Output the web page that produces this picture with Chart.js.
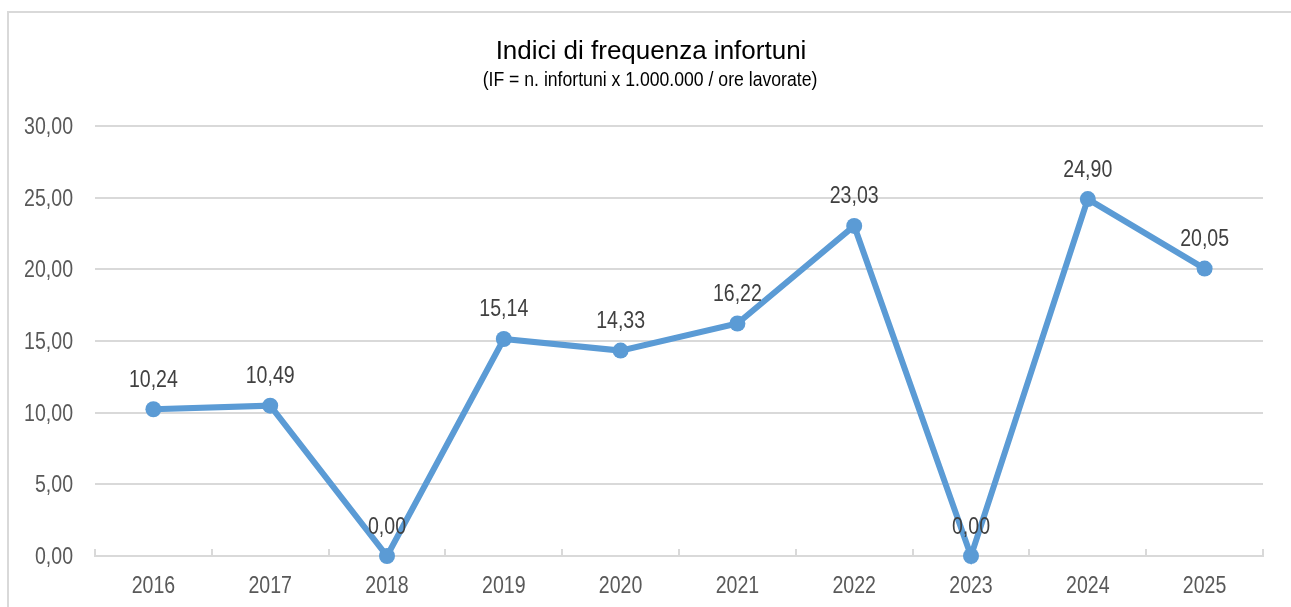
<!DOCTYPE html>
<html>
<head>
<meta charset="utf-8">
<script src="https://cdn.jsdelivr.net/npm/chart.js@4"></script>
<style>
  html, body { margin: 0; padding: 0; background: #fff; overflow: hidden; }
  #frame { position: absolute; left: 7px; top: 11px; width: 1320px; height: 700px; border: 2px solid #d9d9d9; }
  #wrap { position: absolute; left: 0; top: 0; width: 1291px; height: 607px; }
</style>
</head>
<body>
<div id="frame"></div>
<div id="wrap"><canvas id="chart"></canvas></div>
<script>
// Indici di frequenza infortuni
const years = ['2016', '2017', '2018', '2019', '2020', '2021', '2022', '2023', '2024', '2025'];
const ifValues = [10.24, 10.49, 0.00, 15.14, 14.33, 16.22, 23.03, 0.00, 24.90, 20.05];
const yTicks = [0, 5, 10, 15, 20, 25, 30];
const titleText = 'Indici di frequenza infortuni';
const subtitleText = '(IF = n. infortuni x 1.000.000 / ore lavorate)';

const FONT = "'Liberation Sans', Arial, sans-serif";
const NARROW = 0.85; // no Arial Narrow here, so squeeze the regular face

function fmt(v) {
  return v.toFixed(2).replace('.', ',');
}

// draws text squeezed horizontally, baseline = alphabetic
function drawText(ctx, text, x, y, size, color, align, squeeze) {
  ctx.save();
  ctx.font = size + 'px ' + FONT;
  ctx.fillStyle = color;
  ctx.textAlign = align;
  ctx.textBaseline = 'alphabetic';
  ctx.translate(x, y);
  ctx.scale(squeeze, 1);
  ctx.fillText(text, 0, 0);
  ctx.restore();
}

// titles + axis labels (narrow font look)
const textLayer = {
  id: 'textLayer',
  afterDraw(chart) {
    const ctx = chart.ctx;
    const xs = chart.scales.x;
    const ys = chart.scales.y;
    const area = chart.chartArea;

    drawText(ctx, titleText, 651, 59, 26, '#000', 'center', 1);
    drawText(ctx, subtitleText, 650, 86, 20.5, '#000', 'center', 0.86);

    yTicks.forEach(v => {
      drawText(ctx, fmt(v), 73, ys.getPixelForValue(v) + 8, 23, '#595959', 'right', NARROW);
    });
    years.forEach((y, i) => {
      drawText(ctx, y, xs.getPixelForValue(i), area.bottom + 37, 23, '#595959', 'center', NARROW);
    });
  }
};

// value labels above the points
const valueLabels = {
  id: 'valueLabels',
  afterDatasetsDraw(chart) {
    const meta = chart.getDatasetMeta(0);
    meta.data.forEach((pt, i) => {
      drawText(chart.ctx, fmt(ifValues[i]), pt.x, pt.y - 22.5, 23, '#404040', 'center', NARROW);
    });
  }
};

// small tick marks on the category axis, between categories
const axisTicks = {
  id: 'axisTicks',
  beforeDatasetsDraw(chart) {
    const { ctx, chartArea } = chart;
    const n = years.length;
    const step = (chartArea.right - chartArea.left) / n;
    ctx.save();
    ctx.strokeStyle = '#d9d9d9';
    ctx.lineWidth = 2;
    for (let i = 0; i <= n; i++) {
      const x = Math.round(chartArea.left + i * step);
      ctx.beginPath();
      ctx.moveTo(x, chartArea.bottom);
      ctx.lineTo(x, chartArea.bottom - 7);
      ctx.stroke();
    }
    ctx.restore();
  }
};

function initialize() {
  const ctx = document.getElementById('chart');
  new Chart(ctx, {
    type: 'line',
    data: {
      labels: years,
      datasets: [{
        label: 'IF',
        data: ifValues,
        borderColor: '#5b9bd5',
        backgroundColor: '#5b9bd5',
        borderWidth: 6,
        pointRadius: 8,
        pointHoverRadius: 8,
        pointBorderWidth: 0,
        tension: 0,
        clip: false
      }]
    },
    options: {
      responsive: true,
      maintainAspectRatio: false,
      animation: false,
      layout: { padding: { left: 0, right: 28, top: 126, bottom: 0 } },
      plugins: {
        legend: { display: false },
        tooltip: { enabled: false },
        title: { display: false },
        subtitle: { display: false }
      },
      scales: {
        x: {
          offset: true,
          grid: { display: false },
          border: { display: true, color: '#d9d9d9', width: 2 },
          ticks: { display: false },
          afterFit: (s) => { s.height = 51; }
        },
        y: {
          min: 0,
          max: 30,
          afterBuildTicks: (s) => { s.ticks = yTicks.map(v => ({ value: v })); },
          grid: { color: '#d9d9d9', lineWidth: 2, drawTicks: false },
          border: { display: false },
          ticks: { display: false },
          afterFit: (s) => { s.width = 95; }
        }
      }
    },
    plugins: [axisTicks, valueLabels, textLayer]
  });
}

window.addEventListener('DOMContentLoaded', initialize);
</script>
</body>
</html>
